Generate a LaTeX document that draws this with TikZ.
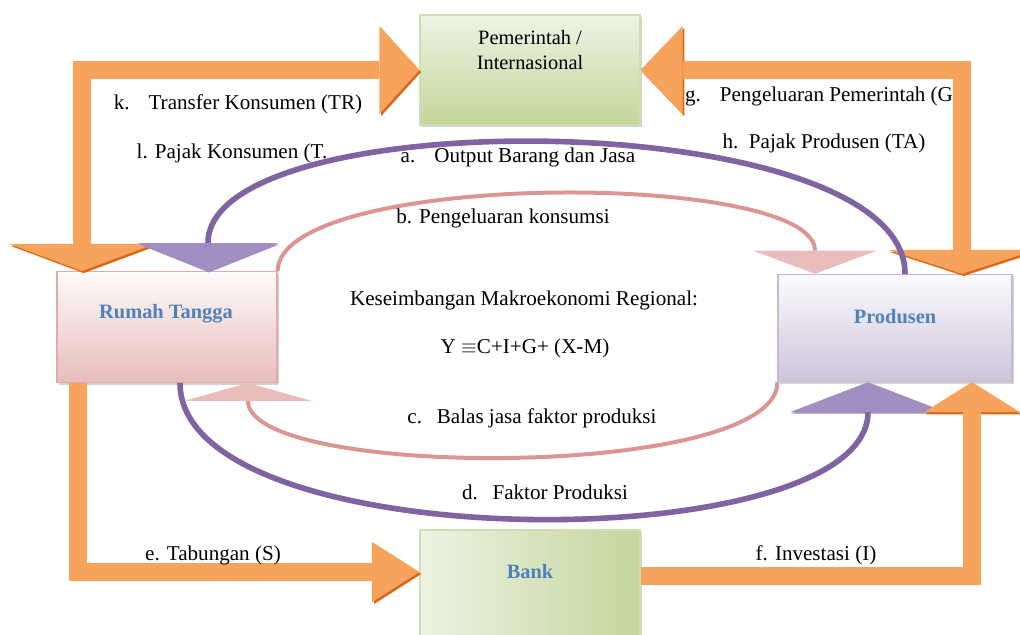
\documentclass[tikz,border=0pt]{standalone}
\usepackage{fontspec}
\setmainfont{Liberation Serif}
\usepackage{tikz}
\usetikzlibrary{arrows.meta, positioning, shadows}

\definecolor{oranye}{HTML}{F8A35B}
\definecolor{oranyeT}{HTML}{D9681A}
\definecolor{ungu}{HTML}{7F64A1}
\definecolor{unguT}{HTML}{3F3151}
\definecolor{unguM}{HTML}{A28FC2}
\definecolor{merah}{HTML}{D99694}
\definecolor{merahM}{HTML}{E8BDBC}
\definecolor{hijauA}{HTML}{EEF3E4}
\definecolor{hijauB}{HTML}{C3D69B}
\definecolor{biru}{HTML}{4F81BD}

\begin{document}
\begin{tikzpicture}[x=0.025cm, y=-0.025cm, font=\fontsize{15}{18}\selectfont,
    kotak/.style={draw, rectangle, line width=0.8pt, drop shadow={opacity=0.35, shadow xshift=1.5pt, shadow yshift=-1.5pt}},
    judul/.style={text=biru, font=\fontsize{14.5}{17.5}\selectfont\bfseries},
    panah/.style={line width=0.45cm, draw=oranye, preaction={draw=oranyeT, transform canvas={shift={(1.2pt,-1.5pt)}}}},
    garisungu/.style={line width=0.14cm, draw=ungu, preaction={draw=unguT, transform canvas={shift={(0.8pt,-1pt)}}}},
    garismerah/.style={line width=0.1cm, draw=merah}]
    \useasboundingbox (0,0) rectangle (1020,635);

    % kotak sektor
    \node[kotak, draw=hijauB!80!white, top color=hijauA, bottom color=hijauB, minimum width=5.5cm, minimum height=2.75cm] (pem) at (530,70) {};
    \node[align=center, font=\fontsize{14.5}{18}\selectfont] (pemteks) at (530,50) {Pemerintah /\\Internasional};
    \node[kotak, draw=merah!80!white, top color=white!96!merah, bottom color=merahM, minimum width=5.5cm, minimum height=2.77cm] (rt) at (167,327) {};
    \node[judul] (rtteks) at (166,314) {Rumah Tangga};
    \node[kotak, draw=ungu!45!white, top color=white!97!ungu, bottom color=ungu!38!white, minimum width=5.85cm, minimum height=2.68cm] (prod) at (895,328) {};
    \node[judul] (prodteks) at (895,317) {Produsen};
    \node[kotak, draw=hijauB!80!white, left color=hijauA, right color=hijauB, minimum width=5.5cm, minimum height=3cm] (bank) at (530,590) {};
    \node[judul] (bankteks) at (530,572) {Bank};

    % aliran pemerintah
    \draw[panah, {Triangle[length=0.68cm, width=3.65cm, line width=0pt]}-{Triangle[length=1cm, width=2.2cm, line width=0pt]}]
        ([xshift=-2.125cm]rt.north) |- (pem.west);
    \draw[panah, {Triangle[length=1.05cm, width=2.2cm, line width=0pt]}-{Triangle[length=0.6cm, width=3.7cm, line width=0pt]}]
        (pem.east) -| ([xshift=1.675cm]prod.north);

    % aliran barang dan jasa
    \draw[garisungu, -{Triangle[length=0.7cm, width=3.5cm, line width=0pt, fill=unguM]}]
        ([xshift=0.25cm]prod.north) .. controls (905,105) and (208,100) .. ([xshift=1.025cm]rt.north);
    \draw[garismerah, -{Triangle[length=0.58cm, width=3.1cm, line width=0pt, fill=merahM]}]
        (rt.north east) .. controls (280,170) and (815,170) .. ([xshift=-2cm]prod.north);
    \draw[garismerah, -{Triangle[length=0.45cm, width=3.2cm, line width=0pt, fill=merahM]}]
        (prod.south west) .. controls (778,480) and (248,480) .. ([xshift=2.025cm]rt.south);
    \draw[garisungu, -{Triangle[length=0.75cm, width=3.9cm, line width=0pt, fill=unguM]}]
        ([xshift=0.325cm]rt.south) .. controls (180,560) and (868,560) .. ([xshift=-0.675cm]prod.south);

    % aliran bank
    \draw[panah, -{Triangle[length=1.18cm, width=1.5cm, line width=0pt]}]
        ([xshift=-2.225cm]rt.south) |- ([yshift=0.45cm]bank.west);
    \draw[panah, -{Triangle[length=0.75cm, width=2.4cm, line width=0pt]}]
        ([yshift=0.35cm]bank.east) -| ([xshift=1.925cm]prod.south);

    % keterangan
    \node (lk) at (238,104) {k.\hspace{0.9em}Transfer Konsumen (TR)};
    \node (ll) at (232,153) {l. Pajak Konsumen (T.};
    \node (la) at (518,157) {a.\hspace{0.9em}Output Barang dan Jasa};
    \node (lb) at (503,218) {b. Pengeluaran konsumsi};
    \node (lg) at (819,96) {g.\hspace{0.9em}Pengeluaran Pemerintah (G};
    \node (lh) at (824,143) {h.\hspace{0.5em}Pajak Produsen (TA)};
    \node (lkes) at (524,300) {Keseimbangan Makroekonomi Regional:};
    \node (lpers) at (525,348) {Y $\equiv$C+I+G+ (X-M)};
    \node (lc) at (532,418) {c.\hspace{0.7em}Balas jasa faktor produksi};
    \node (ld) at (545,492) {d.\hspace{0.7em}Faktor Produksi};
    \node (le) at (213,555) {e. Tabungan (S)};
    \node (lf) at (816,555) {f. Investasi (I)};
\end{tikzpicture}
\end{document}
